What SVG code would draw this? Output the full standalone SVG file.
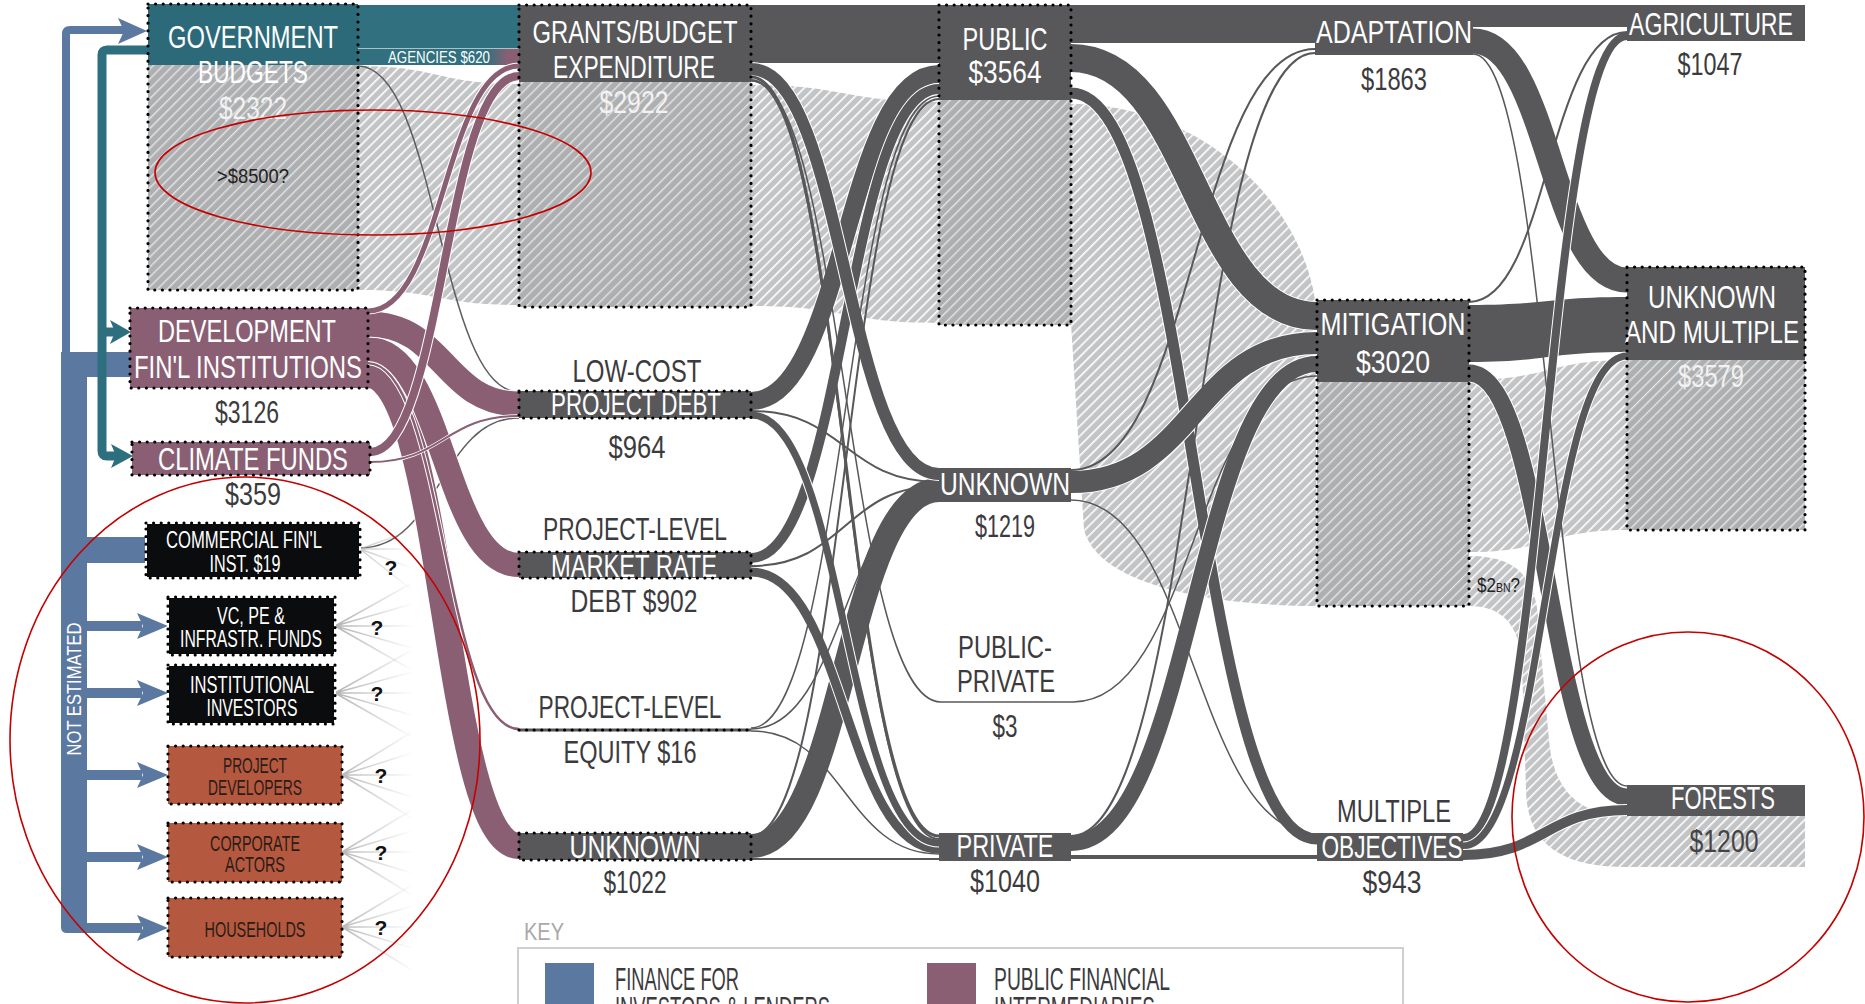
<svg xmlns="http://www.w3.org/2000/svg" width="1865" height="1004" viewBox="0 0 1865 1004">
<defs>
<pattern id="hf" patternUnits="userSpaceOnUse" width="7" height="7" patternTransform="rotate(45)"><rect width="7" height="7" fill="#c3c4c6"/><rect width="1.6" height="7" fill="#ffffff"/></pattern>
<pattern id="hn" patternUnits="userSpaceOnUse" width="7" height="7" patternTransform="rotate(45)"><rect width="7" height="7" fill="#aeafb1"/><rect width="1.4" height="7" fill="#e4e4e5"/></pattern>
<linearGradient id="fade" gradientUnits="userSpaceOnUse" x1="336" y1="0" x2="414" y2="0"><stop offset="0" stop-color="#b3b3b3"/><stop offset="1" stop-color="#b3b3b3" stop-opacity="0"/></linearGradient>
<linearGradient id="agency" x1="0" y1="0" x2="1" y2="0"><stop offset="0.8" stop-color="#31717f"/><stop offset="0.93" stop-color="#8a5f73"/></linearGradient>
<style>
text{font-family:'Liberation Sans Narrow','Liberation Sans',Arial,sans-serif;text-anchor:middle}
.st{text-anchor:start}
.w{fill:#ffffff}
.d{fill:#3b3b3d}
.k{fill:#2a1c17}
.q{font-family:'Liberation Sans',Arial,sans-serif;font-weight:bold;fill:#111111}
.lk{fill:none;stroke:#58585a}
.mv{fill:none;stroke:#8a5f73}
.gr{fill:none;stroke:#5e5e60}
.u{fill:none;stroke:#ffffff}
.dot{fill:none;stroke:#000000;stroke-width:3.2;stroke-dasharray:0 7.6;stroke-linecap:round}
.wb{fill:none;stroke:#ffffff;stroke-width:2}
.fan{fill:none;stroke:url(#fade);stroke-width:1.5}
.ell{fill:none;stroke:#c40000;stroke-width:1.6}
.dk{fill:#58585a}
.blue{fill:#5b79a0}
.teal{fill:none;stroke:#2e6f7f;stroke-width:9}
</style>
</defs>
<rect width="1865" height="1004" fill="#ffffff"/>

<g id="connectors">
<!-- hatched (unestimated) flows -->
<path fill="url(#hf)" d="M358,66 C438,66 438,84 519,84 L519,305 C438,305 438,290 358,290 Z"/>
<path fill="url(#hf)" d="M751,85 C845,85 845,102 939,102 L939,323 C845,323 845,306 751,306 Z"/>
<path fill="url(#hf)" d="M1071,104 C1200,104 1300,200 1315,300 L1317,606 C1230,606 1100,590 1084,530 L1071,323 Z"/>
<path fill="url(#hf)" d="M1469,380 C1548,380 1548,360 1627,360 L1627,530 C1548,530 1548,552 1469,552 Z"/>
<path fill="url(#hf)" d="M1469,556 C1520,556 1538,580 1539,631 L1549,740 C1554,800 1590,816 1627,816 L1627,867 C1570,867 1527,850 1526,790 L1522,666 C1520,622 1500,606 1469,606 Z"/>

<!-- government budget flows -->
<rect x="358" y="5" width="161" height="43" fill="#31717f"/>
<rect x="358" y="49" width="161" height="16" fill="url(#agency)"/>
<line x1="358" y1="48.5" x2="519" y2="48.5" stroke="#a9c3ca" stroke-width="1"/>
<text x="439" y="63" font-size="16" textLength="102" lengthAdjust="spacingAndGlyphs" class="w">AGENCIES $620</text>
<path class="gr" stroke-width="1.5" d="M358,66 C438,66 438,392 519,392"/>
<path class="gr" stroke-width="1.5" d="M360,548 C440,548 440,418 519,418"/>

<!-- public financial intermediary flows -->
<path class="u" stroke-width="28" d="M368,375 C444,375 444,846 519,846"/><path class="mv" stroke-width="26" d="M368,375 C444,375 444,846 519,846"/>
<path class="u" stroke-width="4.5" d="M368,363 C444,363 444,729 519,729"/><path class="mv" stroke-width="2.5" d="M368,363 C444,363 444,729 519,729"/>
<path class="u" stroke-width="26" d="M368,349 C444,349 444,565 519,565"/><path class="mv" stroke-width="24" d="M368,349 C444,349 444,565 519,565"/>
<path class="u" stroke-width="27" d="M368,324 C444,324 444,404 519,404"/><path class="mv" stroke-width="25" d="M368,324 C444,324 444,404 519,404"/>
<path class="u" stroke-width="3.5" d="M370,462 C444,462 444,416 519,416"/><path class="mv" stroke-width="2" d="M370,462 C444,462 444,416 519,416"/>
<path class="u" stroke-width="7" d="M368,311 C444,311 444,66 519,66"/><path class="mv" stroke-width="5" d="M368,311 C444,311 444,66 519,66"/>
<path class="u" stroke-width="10" d="M370,452 C444,452 444,76 519,76"/><path class="mv" stroke-width="8" d="M370,452 C444,452 444,76 519,76"/>

<!-- instruments to public/private -->
<rect x="751" y="5" width="188" height="58" class="dk"/>
<path class="u" stroke-width="26" d="M751,846 C845,846 845,490 939,490"/><path class="lk" stroke-width="24" d="M751,846 C845,846 845,490 939,490"/>
<path class="u" stroke-width="20" d="M751,401 C845,401 845,74 939,74"/><path class="lk" stroke-width="18" d="M751,401 C845,401 845,74 939,74"/>
<path class="u" stroke-width="12" d="M751,558 C845,558 845,89 939,89"/><path class="lk" stroke-width="10" d="M751,558 C845,558 845,89 939,89"/>
<path class="u" stroke-width="14" d="M751,69 C845,69 845,474 939,474"/><path class="lk" stroke-width="12" d="M751,69 C845,69 845,474 939,474"/>
<path class="u" stroke-width="11" d="M751,572 C845,572 845,849 939,849"/><path class="lk" stroke-width="9" d="M751,572 C845,572 845,849 939,849"/>
<path class="u" stroke-width="9" d="M751,415 C845,415 845,843 939,843"/><path class="lk" stroke-width="7" d="M751,415 C845,415 845,843 939,843"/>
<path class="lk" stroke-width="3" d="M751,77 C845,77 845,836 939,836"/>
<path class="lk" stroke-width="2" d="M751,80 C845,80 845,839 939,839"/>
<path class="lk" stroke-width="1.5" d="M751,81 C845,81 845,702 941,702"/>
<path class="lk" stroke-width="2" d="M751,411 C845,411 845,482 939,482"/>
<path class="lk" stroke-width="2" d="M751,566 C845,566 845,486 939,486"/>
<path class="lk" stroke-width="1.5" d="M751,729 C845,729 845,489 939,489"/>
<path class="lk" stroke-width="1.5" d="M751,731 C845,731 845,854 939,854"/>
<path class="lk" stroke-width="1.5" d="M751,728 C845,728 845,96 939,96"/>
<path class="lk" stroke-width="2" d="M751,836 C845,836 845,99 939,99"/>
<line x1="751" y1="859" x2="939" y2="859" stroke="#58585a" stroke-width="2"/>

<!-- public/private to objectives -->
<rect x="1071" y="5" width="244" height="38" class="dk"/>
<path class="u" stroke-width="30" d="M1071,58 C1194,58 1194,316 1317,316"/><path class="lk" stroke-width="28" d="M1071,58 C1194,58 1194,316 1317,316"/>
<path class="u" stroke-width="13" d="M1071,93 C1194,93 1194,839 1317,839"/><path class="lk" stroke-width="11" d="M1071,93 C1194,93 1194,839 1317,839"/>
<path class="u" stroke-width="24" d="M1071,482 C1194,482 1194,343 1317,343"/><path class="lk" stroke-width="22" d="M1071,482 C1194,482 1194,343 1317,343"/>
<path class="u" stroke-width="18" d="M1071,843 C1194,843 1194,364 1317,364"/><path class="lk" stroke-width="16" d="M1071,843 C1194,843 1194,364 1317,364"/>
<path class="lk" stroke-width="2" d="M1071,470 C1194,470 1194,49 1315,49"/>
<path class="lk" stroke-width="1.5" d="M1071,500 C1194,500 1194,834 1317,834"/>
<path class="lk" stroke-width="2" d="M1071,836 C1194,836 1194,53 1315,53"/>
<path class="lk" stroke-width="1.5" d="M1073,702 C1194,702 1194,376 1317,376"/>
<line x1="1071" y1="857" x2="1317" y2="857" stroke="#58585a" stroke-width="4"/>

<!-- objectives to sectors -->
<rect x="1473" y="5" width="154" height="22" class="dk"/>
<path class="dk" d="M1469,305 C1548,305 1548,297 1627,297 L1627,352 C1548,352 1548,362 1469,362 Z"/>
<path class="u" stroke-width="27" d="M1473,41 C1550,41 1550,280 1627,280"/><path class="lk" stroke-width="25" d="M1473,41 C1550,41 1550,280 1627,280"/>
<path class="u" stroke-width="19" d="M1469,373 C1548,373 1548,797 1627,797"/><path class="lk" stroke-width="17" d="M1469,373 C1548,373 1548,797 1627,797"/>
<path class="u" stroke-width="10" d="M1463,838 C1545,838 1545,36 1627,36"/><path class="lk" stroke-width="8" d="M1463,838 C1545,838 1545,36 1627,36"/>
<path class="u" stroke-width="9" d="M1463,846 C1545,846 1545,356 1627,356"/><path class="lk" stroke-width="7" d="M1463,846 C1545,846 1545,356 1627,356"/>
<path class="u" stroke-width="12" d="M1463,855 C1545,855 1545,810 1627,810"/><path class="lk" stroke-width="10" d="M1463,855 C1545,855 1545,810 1627,810"/>
<path class="lk" stroke-width="2" d="M1469,302 C1548,302 1548,32 1627,32"/>
<path class="lk" stroke-width="1.5" d="M1473,54 C1550,54 1550,786 1627,786"/>

<!-- unestimated fan-outs -->
<path class="fan" d="M360,549 L412,530 M360,549 L412,549 M360,549 L412,568 M360,549 L412,590"/>
<path class="fan" d="M335,626 L412,583 M335,626 L412,604 M335,626 L412,626 M335,626 L412,648 M335,626 L412,670"/>
<path class="fan" d="M335,693 L412,650 M335,693 L412,672 M335,693 L412,693 M335,693 L412,715 M335,693 L412,737"/>
<path class="fan" d="M342,775 L412,732 M342,775 L412,753 M342,775 L412,775 M342,775 L412,797 M342,775 L412,818"/>
<path class="fan" d="M342,852 L412,810 M342,852 L412,831 M342,852 L412,852 M342,852 L412,873 M342,852 L412,895"/>
<path class="fan" d="M342,927 L412,885 M342,927 L412,906 M342,927 L412,927 M342,927 L412,948 M342,927 L412,970"/>
<text x="391" y="575" font-size="21" class="q">?</text>
<text x="377" y="635" font-size="21" class="q">?</text>
<text x="377" y="701" font-size="21" class="q">?</text>
<text x="381" y="783" font-size="21" class="q">?</text>
<text x="381" y="860" font-size="21" class="q">?</text>
<text x="381" y="935" font-size="21" class="q">?</text>

<!-- bracket: finance for investors & lenders -->
<path d="M124,30 H70 Q66,30 66,34 V360" fill="none" stroke="#5b79a0" stroke-width="8"/>
<polygon class="blue" points="118,18 147,31 118,44 124,31"/>
<rect class="blue" x="61" y="352" width="71" height="25"/>
<path class="blue" d="M61,352 H87 V923 H142 V933 H67 Q61,933 61,927 Z"/>
<rect class="blue" x="87" y="537" width="61" height="26"/>
<rect class="blue" x="87" y="621" width="55" height="10"/>
<rect class="blue" x="87" y="688" width="55" height="10"/>
<rect class="blue" x="87" y="770" width="55" height="10"/>
<rect class="blue" x="87" y="852" width="55" height="10"/>
<polygon class="blue" points="137,613 168,626 137,639 143,626"/>
<polygon class="blue" points="137,680 168,693 137,706 143,693"/>
<polygon class="blue" points="137,762 168,775 137,788 143,775"/>
<polygon class="blue" points="137,844 168,857 137,870 143,857"/>
<polygon class="blue" points="137,915 168,928 137,941 143,928"/>
<text transform="translate(81,689) rotate(-90)" font-size="20" textLength="133" lengthAdjust="spacingAndGlyphs" class="w">NOT ESTIMATED</text>

<!-- teal bracket -->
<path class="teal" d="M150,50 H107 Q102,50 102,55 V451 Q102,456 107,456 H118"/>
<path class="teal" d="M102,332 H117"/>
<polygon fill="#2e6f7f" points="110,320 131,332 110,344 115,332"/>
<polygon fill="#2e6f7f" points="111,444 133,456 111,468 116,456"/>
</g>

<g id="gov-budgets">
<rect x="148" y="65" width="210" height="225" fill="url(#hn)"/>
<rect x="148" y="4" width="210" height="61" fill="#2c6a7a"/>
<text x="253" y="48" font-size="32" textLength="170" lengthAdjust="spacingAndGlyphs" class="w">GOVERNMENT</text>
<text x="253" y="83" font-size="32" textLength="110" lengthAdjust="spacingAndGlyphs" class="w">BUDGETS</text>
<text x="253" y="119" font-size="31" textLength="68" lengthAdjust="spacingAndGlyphs" fill="#f2f2f2">$2322</text>
<text x="253" y="183" font-size="20" textLength="72" lengthAdjust="spacingAndGlyphs" fill="#222222">&gt;$8500?</text>
<rect x="148" y="4" width="210" height="286" class="dot"/>
</g>

<g id="dev-fin-institutions">
<rect x="130" y="308" width="238" height="80" fill="#8a5f73"/>
<text x="247" y="342" font-size="32" textLength="178" lengthAdjust="spacingAndGlyphs" class="w">DEVELOPMENT</text>
<text x="248" y="378" font-size="32" textLength="228" lengthAdjust="spacingAndGlyphs" class="w">FIN'L INSTITUTIONS</text>
<text x="247" y="423" font-size="31" textLength="64" lengthAdjust="spacingAndGlyphs" class="d">$3126</text>
<rect x="130" y="308" width="238" height="80" class="dot"/>
</g>

<g id="climate-funds">
<rect x="132" y="442" width="238" height="33" fill="#8a5f73"/>
<text x="253" y="470" font-size="32" textLength="190" lengthAdjust="spacingAndGlyphs" class="w">CLIMATE FUNDS</text>
<text x="253" y="505" font-size="31" textLength="56" lengthAdjust="spacingAndGlyphs" class="d">$359</text>
<rect x="132" y="442" width="238" height="33" class="dot"/>
</g>

<g id="commercial-fin-inst">
<rect x="146" y="523" width="214" height="55" fill="#0a0c0d"/>
<text x="244" y="548" font-size="23" textLength="156" lengthAdjust="spacingAndGlyphs" class="w">COMMERCIAL FIN'L</text>
<text x="245" y="572" font-size="23" textLength="71" lengthAdjust="spacingAndGlyphs" class="w">INST. $19</text>
<rect x="146" y="523" width="214" height="55" class="wb"/><rect x="146" y="523" width="214" height="55" class="dot"/>
</g>

<g id="vc-pe-funds">
<rect x="168" y="597" width="167" height="58" fill="#0a0c0d"/>
<text x="251" y="624" font-size="24" textLength="68" lengthAdjust="spacingAndGlyphs" class="w">VC, PE &amp;</text>
<text x="251" y="647" font-size="24" textLength="142" lengthAdjust="spacingAndGlyphs" class="w">INFRASTR. FUNDS</text>
<rect x="168" y="597" width="167" height="58" class="wb"/><rect x="168" y="597" width="167" height="58" class="dot"/>
</g>

<g id="institutional-investors">
<rect x="168" y="665" width="167" height="59" fill="#0a0c0d"/>
<text x="252" y="693" font-size="24" textLength="124" lengthAdjust="spacingAndGlyphs" class="w">INSTITUTIONAL</text>
<text x="252" y="716" font-size="24" textLength="91" lengthAdjust="spacingAndGlyphs" class="w">INVESTORS</text>
<rect x="168" y="665" width="167" height="59" class="wb"/><rect x="168" y="665" width="167" height="59" class="dot"/>
</g>

<g id="project-developers">
<rect x="168" y="746" width="174" height="58" fill="#b4583f"/>
<text x="255" y="773" font-size="22" textLength="64" lengthAdjust="spacingAndGlyphs" class="k">PROJECT</text>
<text x="255" y="795" font-size="22" textLength="94" lengthAdjust="spacingAndGlyphs" class="k">DEVELOPERS</text>
<rect x="168" y="746" width="174" height="58" class="dot"/>
</g>

<g id="corporate-actors">
<rect x="168" y="823" width="174" height="59" fill="#b4583f"/>
<text x="255" y="851" font-size="22" textLength="90" lengthAdjust="spacingAndGlyphs" class="k">CORPORATE</text>
<text x="255" y="872" font-size="22" textLength="60" lengthAdjust="spacingAndGlyphs" class="k">ACTORS</text>
<rect x="168" y="823" width="174" height="59" class="dot"/>
</g>

<g id="households">
<rect x="168" y="898" width="174" height="59" fill="#b4583f"/>
<text x="255" y="937" font-size="22" textLength="101" lengthAdjust="spacingAndGlyphs" class="k">HOUSEHOLDS</text>
<rect x="168" y="898" width="174" height="59" class="dot"/>
</g>

<g id="grants-budget-expenditure">
<rect x="519" y="82" width="232" height="225" fill="url(#hn)"/>
<rect x="519" y="5" width="232" height="77" class="dk"/>
<text x="635" y="43" font-size="32" textLength="205" lengthAdjust="spacingAndGlyphs" class="w">GRANTS/BUDGET</text>
<text x="634" y="78" font-size="32" textLength="162" lengthAdjust="spacingAndGlyphs" class="w">EXPENDITURE</text>
<text x="634" y="113" font-size="31" textLength="69" lengthAdjust="spacingAndGlyphs" fill="#f2f2f2">$2922</text>
<rect x="519" y="5" width="232" height="302" class="dot"/>
</g>

<g id="low-cost-project-debt">
<rect x="519" y="391" width="232" height="27" class="dk"/>
<text x="637" y="382" font-size="31" textLength="129" lengthAdjust="spacingAndGlyphs" class="d">LOW-COST</text>
<text x="636" y="415" font-size="31" textLength="170" lengthAdjust="spacingAndGlyphs" class="w">PROJECT DEBT</text>
<text x="637" y="458" font-size="31" textLength="57" lengthAdjust="spacingAndGlyphs" class="d">$964</text>
<rect x="519" y="391" width="232" height="27" class="dot"/>
</g>

<g id="market-rate-debt">
<rect x="519" y="552" width="232" height="26" class="dk"/>
<text x="635" y="540" font-size="31" textLength="184" lengthAdjust="spacingAndGlyphs" class="d">PROJECT-LEVEL</text>
<text x="634" y="577" font-size="31" textLength="166" lengthAdjust="spacingAndGlyphs" class="w">MARKET RATE</text>
<text x="634" y="612" font-size="31" textLength="127" lengthAdjust="spacingAndGlyphs" class="d">DEBT $902</text>
<rect x="519" y="552" width="232" height="26" class="dot"/>
</g>

<g id="project-equity">
<rect x="519" y="728.5" width="232" height="3" class="dk"/>
<text x="630" y="718" font-size="31" textLength="183" lengthAdjust="spacingAndGlyphs" class="d">PROJECT-LEVEL</text>
<text x="630" y="763" font-size="31" textLength="133" lengthAdjust="spacingAndGlyphs" class="d">EQUITY $16</text>
<line x1="519" y1="730" x2="751" y2="730" class="dot"/>
</g>

<g id="unknown-instrument">
<rect x="519" y="833" width="232" height="27" class="dk"/>
<text x="635" y="858" font-size="31" textLength="131" lengthAdjust="spacingAndGlyphs" class="w">UNKNOWN</text>
<text x="635" y="893" font-size="31" textLength="63" lengthAdjust="spacingAndGlyphs" class="d">$1022</text>
<rect x="519" y="833" width="232" height="27" class="dot"/>
</g>

<g id="public">
<rect x="939" y="100" width="132" height="225" fill="url(#hn)"/>
<rect x="939" y="5" width="132" height="95" class="dk"/>
<text x="1005" y="50" font-size="32" textLength="85" lengthAdjust="spacingAndGlyphs" class="w">PUBLIC</text>
<text x="1005" y="83" font-size="31" textLength="73" lengthAdjust="spacingAndGlyphs" class="w">$3564</text>
<rect x="939" y="5" width="132" height="320" class="dot"/>
</g>

<g id="unknown-sector">
<rect x="939" y="468" width="132" height="34" class="dk"/>
<text x="1005" y="495" font-size="32" textLength="130" lengthAdjust="spacingAndGlyphs" class="w">UNKNOWN</text>
<text x="1005" y="537" font-size="31" textLength="60" lengthAdjust="spacingAndGlyphs" class="d">$1219</text>
</g>

<g id="public-private">
<line x1="941" y1="702" x2="1073" y2="702" stroke="#58585a" stroke-width="1.5"/>
<text x="1005" y="658" font-size="31" textLength="94" lengthAdjust="spacingAndGlyphs" class="d">PUBLIC-</text>
<text x="1006" y="692" font-size="31" textLength="98" lengthAdjust="spacingAndGlyphs" class="d">PRIVATE</text>
<text x="1005" y="737" font-size="31" textLength="25" lengthAdjust="spacingAndGlyphs" class="d">$3</text>
</g>

<g id="private">
<rect x="939" y="833" width="132" height="28" class="dk"/>
<text x="1005" y="857" font-size="31" textLength="97" lengthAdjust="spacingAndGlyphs" class="w">PRIVATE</text>
<text x="1005" y="892" font-size="31" textLength="70" lengthAdjust="spacingAndGlyphs" class="d">$1040</text>
</g>

<g id="adaptation">
<rect x="1315" y="5" width="158" height="50" class="dk"/>
<text x="1394" y="43" font-size="31" textLength="156" lengthAdjust="spacingAndGlyphs" class="w">ADAPTATION</text>
<text x="1394" y="90" font-size="31" textLength="66" lengthAdjust="spacingAndGlyphs" class="d">$1863</text>
</g>

<g id="mitigation">
<rect x="1317" y="382" width="152" height="224" fill="url(#hn)"/>
<rect x="1317" y="300" width="152" height="82" class="dk"/>
<text x="1393" y="335" font-size="31" textLength="145" lengthAdjust="spacingAndGlyphs" class="w">MITIGATION</text>
<text x="1393" y="373" font-size="31" textLength="74" lengthAdjust="spacingAndGlyphs" class="w">$3020</text>
<rect x="1317" y="300" width="152" height="306" class="dot"/>
<text x="1477" y="592" textLength="43" lengthAdjust="spacingAndGlyphs" class="st" fill="#222222"><tspan font-size="21">$2</tspan><tspan font-size="13">BN</tspan><tspan font-size="21">?</tspan></text>
</g>

<g id="multiple-objectives">
<rect x="1317" y="833" width="146" height="28" class="dk"/>
<text x="1394" y="822" font-size="31" textLength="114" lengthAdjust="spacingAndGlyphs" class="d">MULTIPLE</text>
<text x="1392" y="858" font-size="31" textLength="141" lengthAdjust="spacingAndGlyphs" class="w">OBJECTIVES</text>
<text x="1392" y="893" font-size="31" textLength="59" lengthAdjust="spacingAndGlyphs" class="d">$943</text>
</g>

<g id="agriculture">
<rect x="1627" y="5" width="178" height="36" class="dk"/>
<text x="1711" y="35" font-size="31" textLength="164" lengthAdjust="spacingAndGlyphs" class="w">AGRICULTURE</text>
<text x="1710" y="75" font-size="31" textLength="65" lengthAdjust="spacingAndGlyphs" class="d">$1047</text>
</g>

<g id="unknown-and-multiple">
<rect x="1627" y="360" width="178" height="170" fill="url(#hn)"/>
<rect x="1627" y="267" width="178" height="93" class="dk"/>
<text x="1712" y="308" font-size="32" textLength="128" lengthAdjust="spacingAndGlyphs" class="w">UNKNOWN</text>
<text x="1712" y="343" font-size="32" textLength="174" lengthAdjust="spacingAndGlyphs" class="w">AND MULTIPLE</text>
<text x="1711" y="387" font-size="31" textLength="66" lengthAdjust="spacingAndGlyphs" fill="#f2f2f2">$3579</text>
<rect x="1627" y="267" width="178" height="263" class="dot"/>
</g>

<g id="forests">
<rect x="1627" y="816" width="178" height="51" fill="url(#hf)"/>
<rect x="1627" y="785" width="178" height="31" class="dk"/>
<text x="1723" y="809" font-size="31" textLength="104" lengthAdjust="spacingAndGlyphs" class="w">FORESTS</text>
<text x="1724" y="852" font-size="31" textLength="69" lengthAdjust="spacingAndGlyphs" fill="#444446">$1200</text>
</g>

<g id="key">
<text x="524" y="940" font-size="24" textLength="40" lengthAdjust="spacingAndGlyphs" class="st" fill="#a9a9a9">KEY</text>
<rect x="518" y="948" width="885" height="80" fill="none" stroke="#cfcfcf" stroke-width="2"/>
<rect x="545" y="963" width="49" height="60" fill="#5b79a0"/>
<text x="615" y="990" font-size="31" textLength="124" lengthAdjust="spacingAndGlyphs" class="st d">FINANCE FOR</text>
<text x="615" y="1019" font-size="31" textLength="215" lengthAdjust="spacingAndGlyphs" class="st d">INVESTORS &amp; LENDERS</text>
<rect x="927" y="963" width="49" height="60" fill="#8a5f73"/>
<text x="994" y="990" font-size="31" textLength="176" lengthAdjust="spacingAndGlyphs" class="st d">PUBLIC FINANCIAL</text>
<text x="994" y="1019" font-size="31" textLength="161" lengthAdjust="spacingAndGlyphs" class="st d">INTERMEDIARIES</text>
</g>

<g id="annotations">
<ellipse class="ell" cx="373" cy="172.5" rx="218" ry="62.5"/>
<ellipse class="ell" cx="245" cy="740" rx="235" ry="263"/>
<ellipse class="ell" cx="1688" cy="817" rx="176" ry="185"/>
</g>
</svg>
